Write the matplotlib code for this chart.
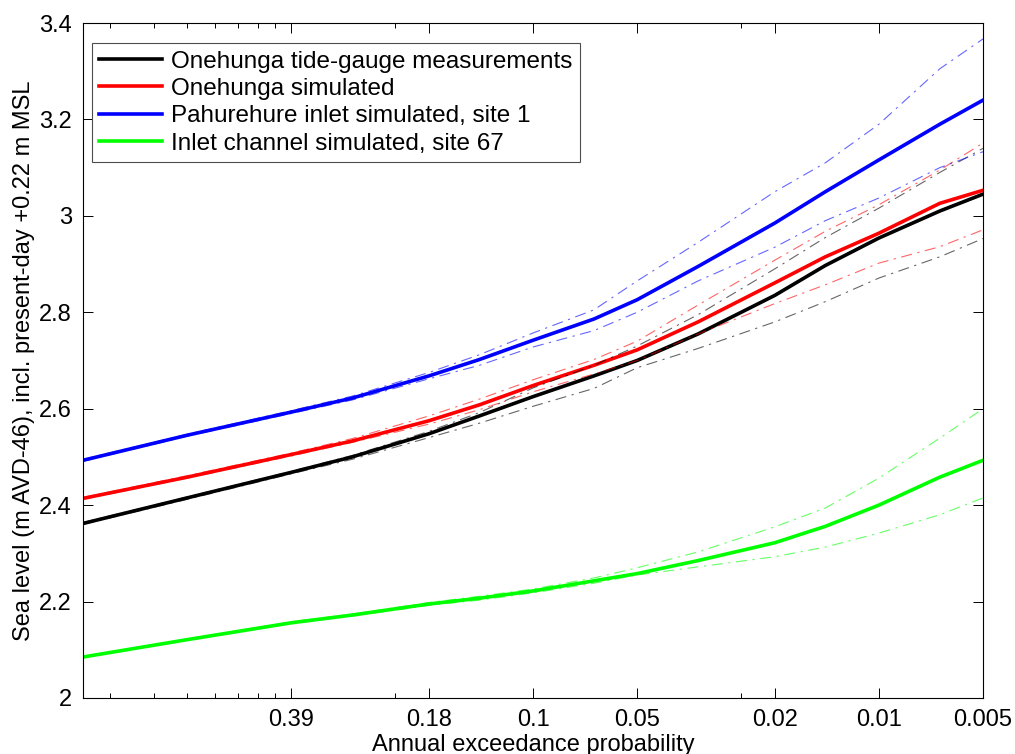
import numpy as np
import matplotlib.pyplot as plt

plt.rcParams['font.family'] = ['Liberation Sans', 'DejaVu Sans']

# average recurrence interval (years) where values were read
ari = [0.5, 1, 2, 3, 5, 7, 10, 15, 20, 30, 50, 70, 100, 150, 200]

black_mid = [2.362, 2.415, 2.468, 2.500, 2.548, 2.585, 2.625, 2.668, 2.700, 2.755, 2.835, 2.897, 2.954, 3.010, 3.045]
black_hi = [2.364, 2.417, 2.470, 2.503, 2.553, 2.592, 2.643, 2.690, 2.730, 2.795, 2.890, 2.955, 3.016, 3.090, 3.140]
black_lo = [2.360, 2.412, 2.465, 2.495, 2.540, 2.570, 2.605, 2.642, 2.685, 2.725, 2.780, 2.822, 2.871, 2.915, 2.953]

red_mid = [2.414, 2.458, 2.505, 2.533, 2.575, 2.608, 2.648, 2.690, 2.722, 2.780, 2.861, 2.915, 2.964, 3.026, 3.053]
red_hi = [2.416, 2.461, 2.508, 2.538, 2.585, 2.620, 2.660, 2.702, 2.740, 2.815, 2.908, 2.968, 3.023, 3.095, 3.151]
red_lo = [2.412, 2.456, 2.502, 2.530, 2.568, 2.598, 2.635, 2.672, 2.700, 2.755, 2.818, 2.857, 2.902, 2.936, 2.971]

blue_mid = [2.493, 2.545, 2.593, 2.622, 2.668, 2.702, 2.742, 2.786, 2.826, 2.895, 2.985, 3.050, 3.116, 3.190, 3.240]
blue_hi = [2.495, 2.547, 2.596, 2.626, 2.675, 2.712, 2.757, 2.805, 2.865, 2.945, 3.050, 3.110, 3.190, 3.305, 3.367]
blue_lo = [2.491, 2.543, 2.590, 2.618, 2.662, 2.690, 2.728, 2.762, 2.800, 2.865, 2.935, 2.990, 3.037, 3.100, 3.133]

green_mid = [2.085, 2.121, 2.156, 2.172, 2.195, 2.207, 2.222, 2.243, 2.258, 2.285, 2.322, 2.356, 2.400, 2.458, 2.493]
green_hi = [2.086, 2.122, 2.158, 2.174, 2.198, 2.211, 2.226, 2.249, 2.270, 2.303, 2.355, 2.394, 2.456, 2.539, 2.600]
green_lo = [2.084, 2.120, 2.154, 2.170, 2.192, 2.203, 2.218, 2.238, 2.255, 2.272, 2.293, 2.313, 2.342, 2.380, 2.415]

labels = ['Onehunga tide-gauge measurements', 'Onehunga simulated',
          'Pahurehure inlet simulated, site 1', 'Inlet channel simulated, site 67']
colors = ['k', (1, 0, 0), (0, 0, 1), (0, 1, 0)]

tick_ari = [2, 5, 10, 20, 50, 100, 200]
tick_aep = ['0.39', '0.18', '0.1', '0.05', '0.02', '0.01', '0.005']
minor_ari = [0.6, 0.8, 1.0, 1.2, 1.4, 1.6, 1.8, 4, 40]

fig = plt.figure(figsize=(10.15, 7.54), dpi=100)
ax = fig.add_axes([83/1015, 56/754, 900/1015, 675/754])

mids = [black_mid, red_mid, blue_mid, green_mid]
bands = [(black_hi, black_lo), (red_hi, red_lo), (blue_hi, blue_lo), (green_hi, green_lo)]

for mid, c, lab in zip(mids, colors, labels):
    ax.plot(ari, mid, color=c, lw=2.6, label=lab)
for (hi, lo), c in zip(bands, colors):
    for b in (hi, lo):
        ax.plot(ari, b, color=c, lw=0.8, alpha=0.6, ls=(0, (10, 5, 2, 5)))

ax.set_xscale('log')
ax.set_xlim(0.5, 200)
ax.set_ylim(2, 3.4)
ax.set_xticks(tick_ari)
ax.set_xticklabels(tick_aep)
ax.set_xticks(minor_ari, minor=True)
ax.xaxis.set_minor_formatter(plt.NullFormatter())
ax.set_yticks(np.arange(2, 3.41, 0.2))
ax.set_yticklabels(['2', '2.2', '2.4', '2.6', '2.8', '3', '3.2', '3.4'])
ax.tick_params(which='both', direction='in', top=True, right=True, labelsize=17, width=0.7)
ax.tick_params(which='major', length=7, pad=8)
ax.tick_params(which='minor', length=3.5)
for s in ax.spines.values():
    s.set_linewidth(0.8)

ax.set_xlabel('Annual exceedance probability', fontsize=17, labelpad=2)
ax.set_ylabel('Sea level (m AVD-46), incl. present-day +0.22 m MSL', fontsize=17, labelpad=3)

leg = ax.legend(loc='upper left', bbox_to_anchor=(0.01, 0.97), borderaxespad=0, fontsize=17.5,
                handlelength=2.6, handletextpad=0.35, labelspacing=0.22, borderpad=0.3,
                fancybox=False, framealpha=1)
leg.get_frame().set_edgecolor('0.3')
leg.get_frame().set_linewidth(0.8)

plt.savefig('out.png', dpi=100)
